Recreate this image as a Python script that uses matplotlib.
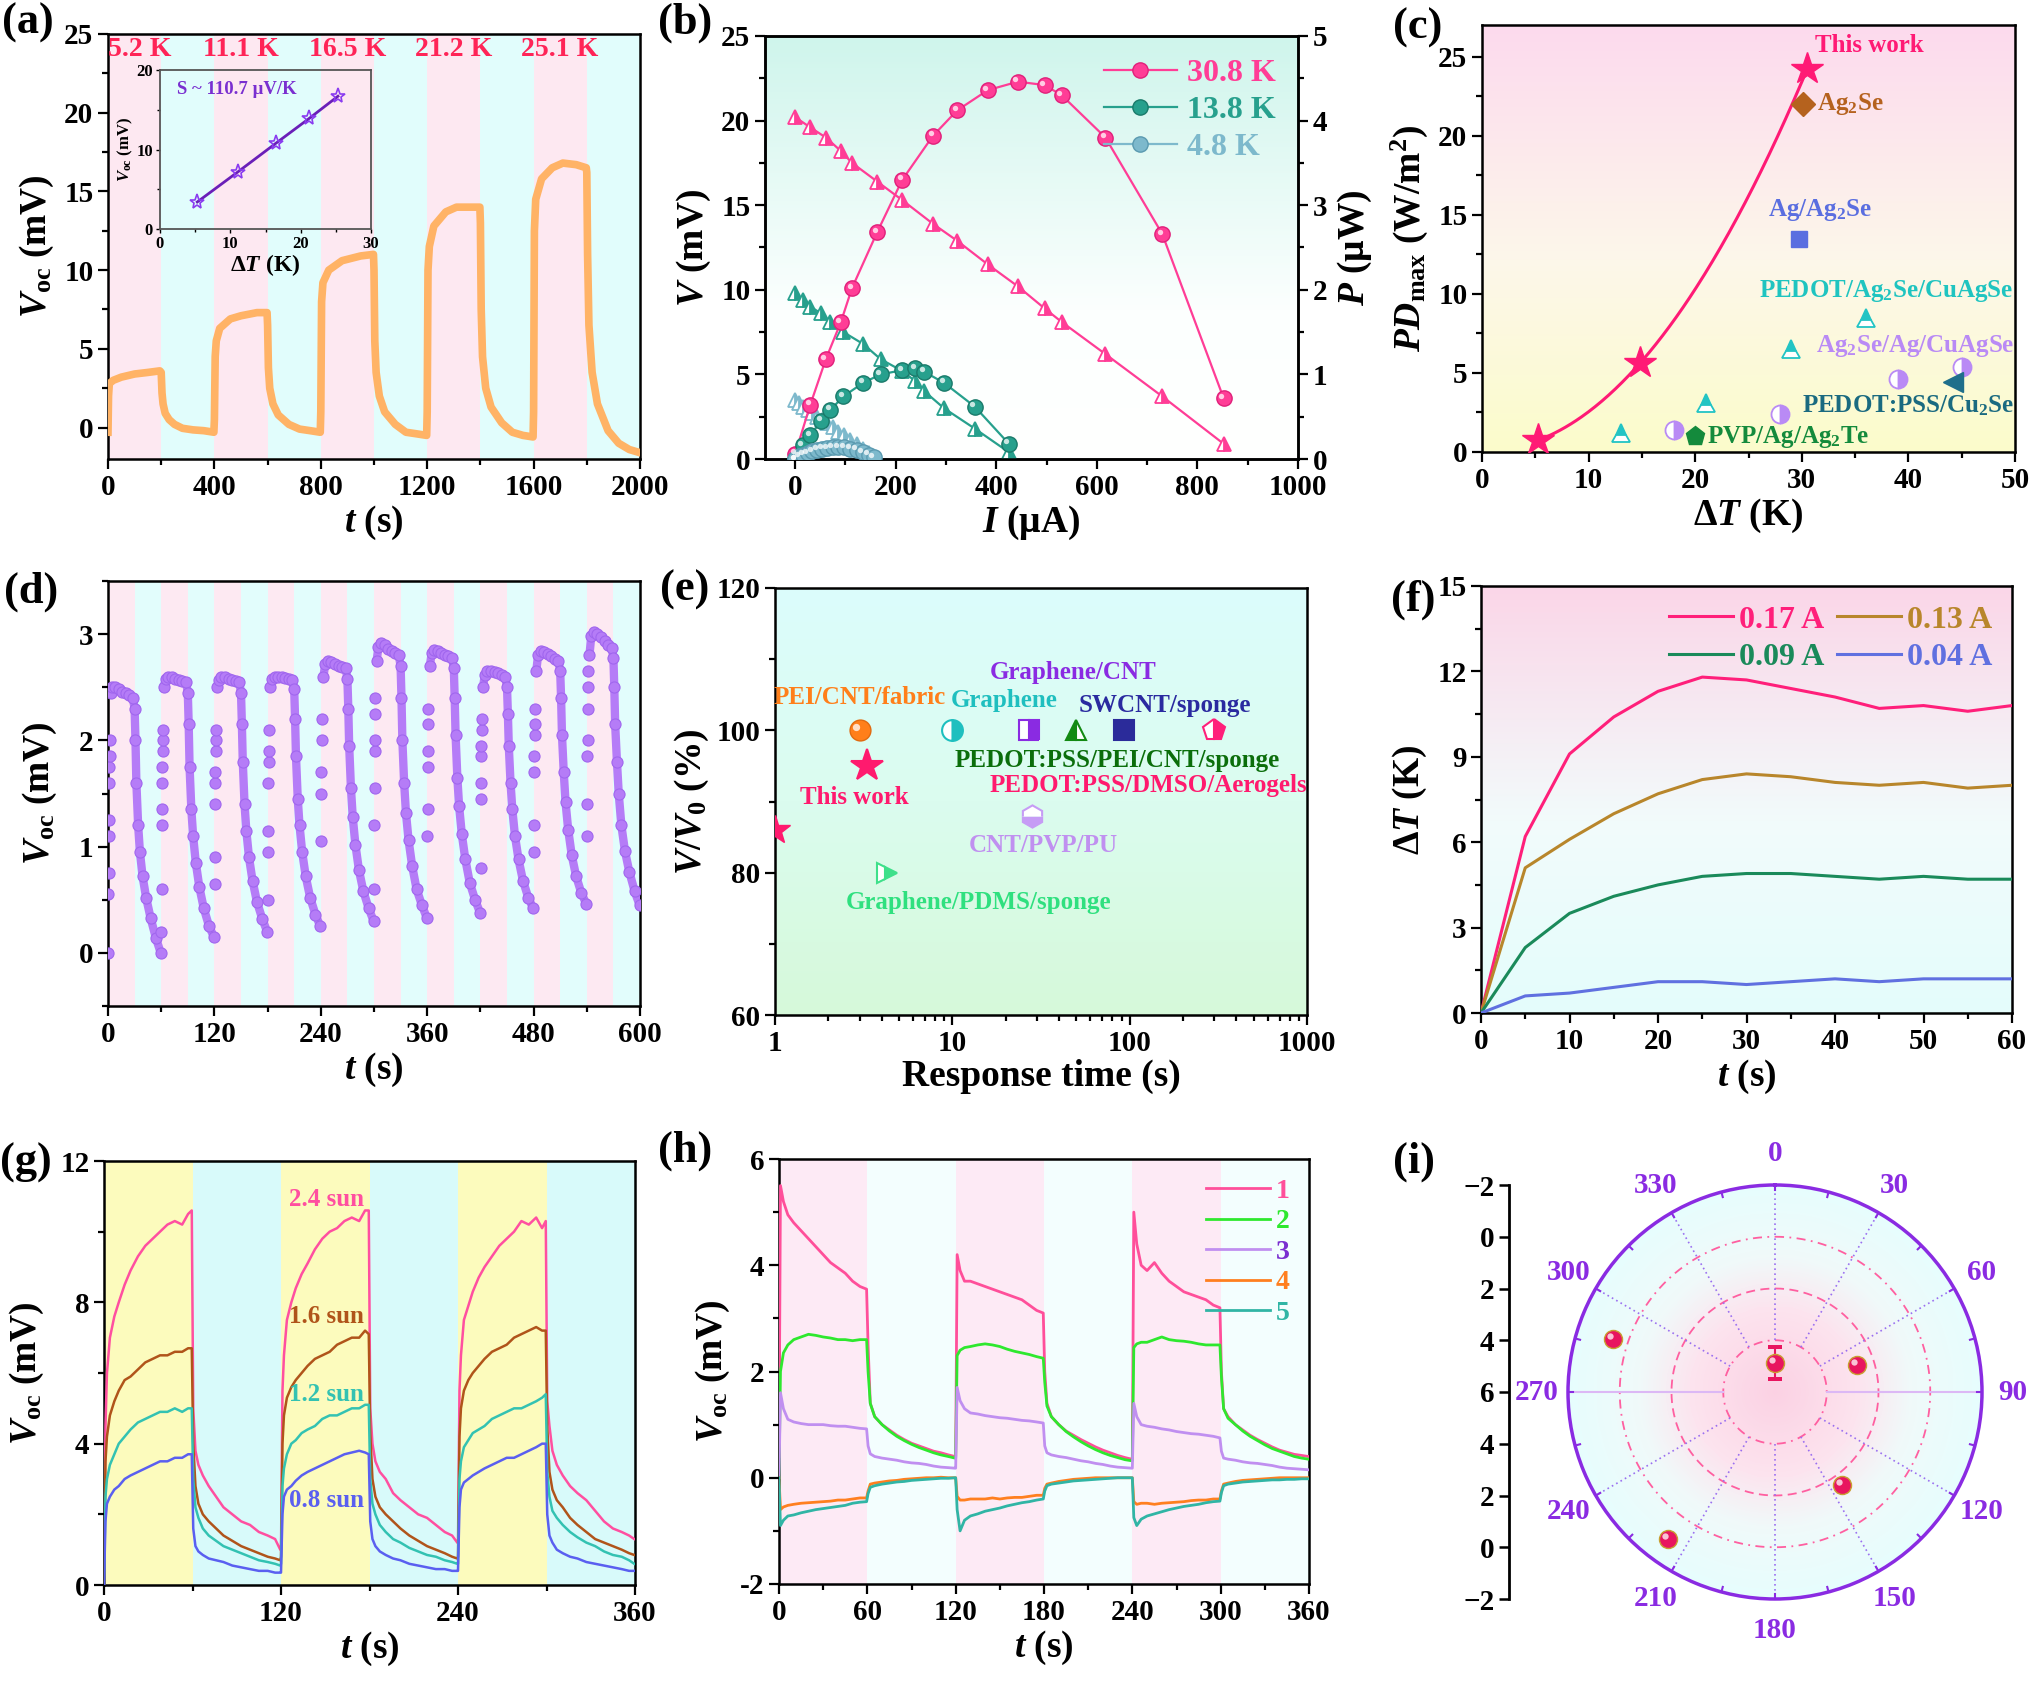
import numpy as np
import matplotlib
matplotlib.use('Agg')
import matplotlib.pyplot as plt
from matplotlib.colors import LinearSegmentedColormap
from matplotlib.ticker import MultipleLocator, NullFormatter, LogLocator
from matplotlib.transforms import ScaledTranslation

plt.rcParams['font.family'] = ['Liberation Serif', 'DejaVu Serif']
plt.rcParams['font.weight'] = 'bold'
plt.rcParams['axes.labelweight'] = 'bold'
plt.rcParams['mathtext.fontset'] = 'custom'
plt.rcParams['mathtext.rm'] = 'Liberation Serif:bold'
plt.rcParams['mathtext.it'] = 'Liberation Serif:italic:bold'
plt.rcParams['mathtext.bf'] = 'Liberation Serif:bold'
plt.rcParams['axes.unicode_minus'] = False

# ------------------------------------------------------------------ data
# (a) Voc vs time
a_t = [0, 2, 5, 20, 50, 100, 150, 195, 200, 203, 207, 215, 230, 250, 280, 320, 360, 398,
       400, 403, 407, 420, 460, 500, 560, 598, 600, 603, 608, 620, 640, 680, 720, 760, 798,
       800, 803, 808, 830, 880, 950, 998, 1000, 1003, 1008, 1020, 1040, 1080, 1120, 1160, 1198,
       1200, 1203, 1208, 1225, 1270, 1310, 1350, 1398, 1400, 1403, 1408, 1420, 1440, 1480, 1520, 1560, 1598,
       1600, 1603, 1608, 1630, 1670, 1710, 1760, 1798, 1800, 1803, 1808, 1820, 1840, 1880, 1920, 1960, 2000]
a_v = [-0.3, 2.0, 2.8, 3.0, 3.2, 3.4, 3.5, 3.6, 3.5, 2.2, 1.5, 0.9, 0.5, 0.2, -0.05, -0.15, -0.2, -0.3,
       0.5, 4.5, 5.5, 6.3, 6.9, 7.1, 7.3, 7.3, 6.5, 3.8, 2.5, 1.5, 0.8, 0.2, -0.1, -0.2, -0.3,
       1.0, 8.0, 9.2, 10.0, 10.6, 10.9, 11.0, 10.0, 5.5, 3.5, 2.0, 1.0, 0.2, -0.3, -0.4, -0.5,
       1.0, 10.0, 11.5, 12.8, 13.7, 14.0, 14.0, 14.0, 13.0, 7.5, 4.5, 2.5, 1.3, 0.3, -0.3, -0.5, -0.6,
       1.0, 12.5, 14.5, 15.8, 16.5, 16.8, 16.7, 16.5, 16.2, 11.0, 6.5, 3.5, 1.5, -0.2, -1.0, -1.4, -1.6]
a_labels = ['5.2 K', '11.1 K', '16.5 K', '21.2 K', '25.1 K']
a_label_t = [118, 498, 902, 1298, 1698]
a_in_dT = [5.3, 11.1, 16.5, 21.2, 25.3]
a_in_V = [3.4, 7.2, 10.8, 13.9, 16.7]

# (b) I-V and P-I
b_labels = ['30.8 K', '13.8 K', '4.8 K']
b_I = [[0, 30, 61, 91, 113, 163, 213, 274, 322, 383, 443, 496, 530, 617, 730, 852],
       [0, 15, 30, 52, 70, 96, 135, 170, 213, 239, 257, 296, 357, 425],
       [0, 8, 16, 25, 34, 44, 54, 64, 75, 86, 98, 110, 122, 134, 146, 156]]
b_V = [[20.2, 19.6, 19.0, 18.2, 17.5, 16.4, 15.3, 13.9, 12.9, 11.5, 10.2, 8.9, 8.1, 6.2, 3.7, 0.9],
       [9.8, 9.4, 9.0, 8.6, 8.1, 7.5, 6.8, 5.9, 5.2, 4.6, 4.0, 3.0, 1.8, 0.4],
       [3.5, 3.3, 3.1, 2.9, 2.7, 2.5, 2.3, 2.1, 1.9, 1.6, 1.4, 1.1, 0.9, 0.6, 0.35, 0.1]]
b_P = [[0.06, 0.64, 1.18, 1.62, 2.02, 2.68, 3.30, 3.82, 4.12, 4.36, 4.46, 4.42, 4.30, 3.80, 2.66, 0.72],
       [0.0, 0.16, 0.28, 0.45, 0.58, 0.74, 0.90, 1.00, 1.05, 1.07, 1.03, 0.90, 0.62, 0.18],
       [0.0, 0.03, 0.05, 0.07, 0.09, 0.11, 0.12, 0.13, 0.14, 0.14, 0.14, 0.12, 0.11, 0.08, 0.05, 0.02]]

# (c) power density comparison
c_tw_dT = [5.3, 14.8, 30.5]
c_tw_PD = [0.75, 5.6, 24.2]
c_ag2se = (30.1, 22.0)
c_agag2se = (29.7, 13.5)
c_tri_dT = [36.0, 29.0, 21.0, 13.0]
c_tri_PD = [8.5, 6.5, 3.1, 1.2]
c_half_dT = [45.0, 39.0, 28.0, 18.0]
c_half_PD = [5.4, 4.6, 2.4, 1.4]
c_cu2se = (44.2, 4.4)
c_pvp = (20.0, 1.0)

# (d) cycling
d_rise = [[0.0, 0.55, 0.75, 1.1, 1.25, 1.6, 1.75, 1.85, 2.0],
          [0.2, 0.6, 1.2, 1.35, 1.6, 1.75, 1.9, 2.0, 2.1],
          [0.65, 0.9, 1.4, 1.6, 1.7, 1.9, 2.0, 2.1],
          [0.5, 0.95, 1.15, 1.6, 1.8, 1.9, 2.1],
          [1.05, 1.5, 1.7, 2.0, 2.2],
          [0.6, 1.2, 1.55, 1.9, 2.0, 2.25, 2.4],
          [1.1, 1.35, 1.75, 1.9, 2.15, 2.3],
          [0.8, 1.45, 1.6, 1.85, 1.95, 2.1, 2.2],
          [0.95, 1.2, 1.7, 1.85, 2.05, 2.15, 2.3],
          [1.1, 1.4, 1.85, 2.0, 2.3, 2.5, 2.65]]
d_rise_dt = [0.3, 0.5, 0.7, 0.9, 1.1, 1.3, 1.5, 1.7, 1.9]
d_off = [3, 5, 8, 12, 16, 20, 24, 28, 30, 31, 32, 34, 36, 39, 43, 48, 54, 59.5]
d_vals = [[2.45, 2.5, 2.5, 2.48, 2.46, 2.45, 2.43, 2.4, 2.3, 2.0, 1.6, 1.2, 0.95, 0.72, 0.52, 0.33, 0.14, 0.0],
          [2.5, 2.58, 2.6, 2.6, 2.58, 2.57, 2.56, 2.55, 2.45, 2.15, 1.75, 1.35, 1.1, 0.85, 0.62, 0.42, 0.25, 0.15],
          [2.5, 2.57, 2.6, 2.6, 2.58, 2.57, 2.56, 2.55, 2.45, 2.15, 1.8, 1.4, 1.15, 0.9, 0.68, 0.48, 0.32, 0.2],
          [2.5, 2.58, 2.6, 2.6, 2.6, 2.59, 2.58, 2.57, 2.48, 2.2, 1.85, 1.45, 1.2, 0.95, 0.72, 0.52, 0.36, 0.25],
          [2.6, 2.72, 2.75, 2.74, 2.72, 2.7, 2.69, 2.68, 2.58, 2.3, 1.95, 1.55, 1.28, 1.02, 0.78, 0.58, 0.42, 0.3],
          [2.75, 2.88, 2.92, 2.9, 2.86, 2.84, 2.82, 2.8, 2.7, 2.4, 2.0, 1.6, 1.32, 1.06, 0.82, 0.6, 0.45, 0.33],
          [2.7, 2.82, 2.85, 2.84, 2.82, 2.8, 2.79, 2.78, 2.68, 2.4, 2.05, 1.65, 1.38, 1.12, 0.88, 0.66, 0.5, 0.38],
          [2.5, 2.62, 2.65, 2.65, 2.64, 2.63, 2.62, 2.6, 2.5, 2.25, 1.95, 1.6, 1.35, 1.1, 0.88, 0.68, 0.52, 0.42],
          [2.65, 2.8, 2.84, 2.83, 2.81, 2.79, 2.77, 2.75, 2.65, 2.4, 2.05, 1.7, 1.42, 1.16, 0.92, 0.72, 0.56, 0.46],
          [2.8, 2.98, 3.02, 3.0, 2.97, 2.94, 2.9, 2.87, 2.78, 2.5, 2.15, 1.8, 1.5, 1.2, 0.96, 0.76, 0.58, 0.45]]

# (e) stability vs response time
e_names = ['PEI/CNT/fabric', 'Graphene', 'Graphene/CNT', 'PEDOT:PSS/PEI/CNT/sponge', 'SWCNT/sponge',
           'PEDOT:PSS/DMSO/Aerogels', 'This work', 'CNT/PVP/PU', 'Graphene/PDMS/sponge']
e_time = [3.0, 10.0, 27, 50, 93, 297, 3.3, 28, 4.3]
e_ratio = [100, 100, 100, 100, 100, 100, 95, 88, 80]
e_lab_x = [3.0, 19.5, 48, 85, 157, 128, 2.79, 32.4, 14.1]
e_lab_y = [104.6, 104.2, 108.1, 95.7, 103.5, 92.2, 90.6, 83.8, 75.8]
e_extra = (1.0, 86)

# (f) Delta T vs time
f_t = [0, 5, 10, 15, 20, 25, 30, 35, 40, 45, 50, 55, 60]
f_labels = ['0.17 A', '0.13 A', '0.09 A', '0.04 A']
f_dT = [[0, 6.2, 9.1, 10.4, 11.3, 11.8, 11.7, 11.4, 11.1, 10.7, 10.8, 10.6, 10.8],
        [0, 5.1, 6.1, 7.0, 7.7, 8.2, 8.4, 8.3, 8.1, 8.0, 8.1, 7.9, 8.0],
        [0, 2.3, 3.5, 4.1, 4.5, 4.8, 4.9, 4.9, 4.8, 4.7, 4.8, 4.7, 4.7],
        [0, 0.6, 0.7, 0.9, 1.1, 1.1, 1.0, 1.1, 1.2, 1.1, 1.2, 1.2, 1.2]]

# (g) light intensity
g_cycles = [0, 120, 240]
g_off = [0, 1, 2, 4, 7, 10, 14, 18, 23, 28, 33, 38, 43, 48, 53, 57, 59.5,
         60.5, 62, 64, 67, 71, 76, 81, 87, 93, 99, 105, 111, 116, 119.5]
g_labels = ['2.4 sun', '1.6 sun', '1.2 sun', '0.8 sun']
g_lab_y = [10.9, 7.6, 5.4, 2.4]
g_V = [
    [0.0, 4.5, 6.0, 7.0, 7.6, 8.0, 8.5, 8.9, 9.3, 9.6, 9.8, 10.0, 10.2, 10.3, 10.2, 10.5, 10.6,
     5.0, 3.8, 3.4, 3.1, 2.8, 2.5, 2.2, 2.0, 1.8, 1.7, 1.5, 1.4, 1.3, 1.0,
     1.0, 5.5, 6.5, 7.5, 8.0, 8.4, 8.8, 9.1, 9.5, 9.8, 10.0, 10.1, 10.3, 10.4, 10.3, 10.6, 10.6,
     5.0, 4.0, 3.5, 3.2, 3.0, 2.6, 2.4, 2.2, 2.0, 1.9, 1.7, 1.5, 1.4, 1.2,
     1.2, 5.5, 6.5, 7.5, 7.9, 8.3, 8.7, 9.0, 9.3, 9.6, 9.8, 10.0, 10.3, 10.2, 10.4, 10.1, 10.3,
     5.2, 4.5, 3.8, 3.4, 3.1, 2.8, 2.6, 2.4, 2.1, 1.8, 1.6, 1.5, 1.4, 1.3],
    [0.0, 3.5, 4.2, 4.8, 5.2, 5.5, 5.8, 5.9, 6.1, 6.3, 6.4, 6.5, 6.5, 6.6, 6.6, 6.7, 6.7,
     4.0, 2.8, 2.3, 2.0, 1.8, 1.6, 1.4, 1.25, 1.1, 1.0, 0.9, 0.8, 0.75, 0.7,
     0.8, 4.0, 4.8, 5.3, 5.6, 5.8, 6.0, 6.2, 6.4, 6.5, 6.6, 6.8, 6.9, 7.0, 7.0, 7.2, 7.1,
     4.3, 3.0, 2.5, 2.2, 2.0, 1.8, 1.6, 1.4, 1.25, 1.1, 1.0, 0.9, 0.8, 0.75,
     0.8, 4.2, 5.0, 5.5, 5.8, 6.0, 6.2, 6.4, 6.6, 6.7, 6.8, 7.0, 7.1, 7.2, 7.3, 7.2, 7.2,
     4.5, 3.2, 2.7, 2.4, 2.2, 1.9, 1.7, 1.5, 1.3, 1.2, 1.1, 1.0, 0.9, 0.85],
    [0.0, 2.5, 3.0, 3.4, 3.7, 4.0, 4.2, 4.4, 4.6, 4.7, 4.8, 4.9, 4.9, 5.0, 4.9, 5.0, 5.0,
     3.0, 2.2, 1.9, 1.6, 1.4, 1.25, 1.1, 1.0, 0.9, 0.8, 0.7, 0.65, 0.6, 0.55,
     0.6, 2.8, 3.3, 3.7, 4.0, 4.1, 4.3, 4.4, 4.5, 4.7, 4.8, 4.8, 4.9, 5.0, 5.0, 5.1, 5.1,
     3.0, 2.3, 2.0, 1.7, 1.5, 1.3, 1.2, 1.05, 0.95, 0.85, 0.8, 0.7, 0.65, 0.6,
     0.6, 3.0, 3.5, 3.9, 4.1, 4.3, 4.4, 4.5, 4.7, 4.8, 4.9, 5.0, 5.0, 5.1, 5.2, 5.3, 5.4,
     3.2, 2.5, 2.1, 1.9, 1.7, 1.5, 1.35, 1.2, 1.1, 0.95, 0.85, 0.8, 0.7, 0.6],
    [0.0, 1.8, 2.3, 2.5, 2.7, 2.8, 3.0, 3.1, 3.2, 3.3, 3.4, 3.5, 3.5, 3.6, 3.6, 3.7, 3.7,
     1.6, 1.1, 0.95, 0.85, 0.75, 0.7, 0.65, 0.55, 0.5, 0.45, 0.4, 0.4, 0.35, 0.35,
     0.35, 2.0, 2.5, 2.7, 2.8, 2.95, 3.1, 3.2, 3.3, 3.4, 3.5, 3.6, 3.7, 3.75, 3.8, 3.75, 3.7,
     1.8, 1.3, 1.1, 0.95, 0.85, 0.75, 0.7, 0.6, 0.55, 0.5, 0.45, 0.45, 0.4, 0.4,
     0.4, 2.2, 2.7, 2.9, 3.0, 3.1, 3.2, 3.3, 3.4, 3.5, 3.6, 3.6, 3.7, 3.8, 3.9, 4.0, 4.0,
     2.0, 1.4, 1.2, 1.0, 0.9, 0.8, 0.75, 0.65, 0.6, 0.55, 0.5, 0.45, 0.4, 0.4]]

# (h) five devices
h_cycles = [0, 120, 240]
h_off = [0, 1, 3, 6, 10, 15, 20, 25, 30, 35, 40, 45, 50, 55, 59.5,
         60.5, 62, 65, 70, 75, 80, 85, 90, 95, 100, 105, 110, 115, 119.5]
h_labels = ['1', '2', '3', '4', '5']
h_V = [
    [0.4, 5.5, 5.2, 4.95, 4.8, 4.65, 4.5, 4.35, 4.2, 4.05, 3.95, 3.85, 3.7, 3.6, 3.55,
     2.5, 1.4, 1.15, 1.0, 0.9, 0.8, 0.72, 0.65, 0.6, 0.55, 0.5, 0.47, 0.43, 0.4,
     0.4, 4.2, 3.9, 3.7, 3.7, 3.65, 3.6, 3.55, 3.5, 3.45, 3.4, 3.35, 3.25, 3.15, 3.1,
     2.0, 1.4, 1.15, 1.0, 0.88, 0.8, 0.72, 0.65, 0.58, 0.52, 0.47, 0.42, 0.38, 0.35,
     0.35, 5.0, 4.4, 4.0, 3.9, 4.05, 3.85, 3.7, 3.6, 3.5, 3.45, 3.4, 3.35, 3.25, 3.2,
     2.0, 1.3, 1.15, 1.0, 0.9, 0.8, 0.72, 0.65, 0.58, 0.52, 0.48, 0.44, 0.42, 0.4],
    [0.0, 2.0, 2.35, 2.5, 2.6, 2.65, 2.7, 2.68, 2.65, 2.63, 2.6, 2.6, 2.58, 2.6, 2.6,
     2.0, 1.4, 1.15, 1.0, 0.88, 0.78, 0.7, 0.63, 0.57, 0.52, 0.47, 0.43, 0.4, 0.37,
     0.37, 2.3, 2.4, 2.45, 2.47, 2.5, 2.52, 2.5, 2.47, 2.42, 2.38, 2.35, 2.32, 2.28, 2.25,
     1.8, 1.35, 1.15, 1.0, 0.87, 0.77, 0.68, 0.6, 0.53, 0.47, 0.42, 0.38, 0.34, 0.32,
     0.32, 2.45, 2.52, 2.55, 2.55, 2.6, 2.65, 2.6, 2.58, 2.57, 2.55, 2.52, 2.5, 2.5, 2.5,
     1.9, 1.3, 1.12, 1.0, 0.88, 0.78, 0.7, 0.62, 0.55, 0.5, 0.45, 0.4, 0.37, 0.35],
    [0.0, 1.6, 1.3, 1.1, 1.05, 1.02, 1.0, 1.0, 1.0, 0.98, 0.97, 0.97, 0.95, 0.93, 0.92,
     0.6, 0.45, 0.4, 0.37, 0.35, 0.33, 0.3, 0.28, 0.27, 0.25, 0.22, 0.2, 0.19, 0.18,
     0.18, 1.7, 1.45, 1.3, 1.22, 1.2, 1.17, 1.15, 1.13, 1.12, 1.1, 1.08, 1.07, 1.05, 1.03,
     0.6, 0.47, 0.43, 0.4, 0.38, 0.35, 0.32, 0.3, 0.27, 0.25, 0.22, 0.2, 0.19, 0.18,
     0.18, 1.4, 1.15, 1.0, 0.97, 0.95, 0.92, 0.9, 0.87, 0.85, 0.83, 0.82, 0.8, 0.78, 0.75,
     0.5, 0.37, 0.35, 0.33, 0.3, 0.28, 0.27, 0.25, 0.23, 0.2, 0.18, 0.17, 0.16, 0.15],
    [0.0, -0.6, -0.55, -0.52, -0.5, -0.48, -0.47, -0.46, -0.45, -0.44, -0.42, -0.42, -0.4, -0.38, -0.38,
     -0.25, -0.12, -0.1, -0.08, -0.06, -0.05, -0.03, -0.02, -0.01, 0.0, 0.0, 0.01, 0.0, 0.0,
     0.0, -0.35, -0.42, -0.42, -0.4, -0.4, -0.4, -0.38, -0.4, -0.38, -0.37, -0.37, -0.35, -0.33, -0.33,
     -0.2, -0.12, -0.1, -0.07, -0.05, -0.03, -0.02, -0.01, 0.0, 0.0, 0.0, 0.0, 0.0, 0.0,
     0.0, -0.45, -0.5, -0.48, -0.48, -0.5, -0.48, -0.47, -0.46, -0.45, -0.43, -0.42, -0.42, -0.4, -0.4,
     -0.25, -0.12, -0.1, -0.07, -0.05, -0.04, -0.03, -0.02, -0.01, 0.0, 0.0, 0.0, 0.0, 0.0],
    [0.0, -0.9, -0.8, -0.72, -0.7, -0.66, -0.63, -0.6, -0.58, -0.56, -0.54, -0.52, -0.48, -0.46, -0.45,
     -0.3, -0.18, -0.15, -0.12, -0.1, -0.08, -0.07, -0.05, -0.04, -0.03, -0.02, -0.01, -0.01, 0.0,
     0.0, -0.6, -1.0, -0.8, -0.72, -0.68, -0.63, -0.6, -0.57, -0.53, -0.5, -0.47, -0.45, -0.42, -0.4,
     -0.25, -0.15, -0.12, -0.1, -0.08, -0.06, -0.05, -0.04, -0.03, -0.02, -0.01, 0.0, 0.0, 0.0,
     0.0, -0.75, -0.9, -0.78, -0.72, -0.68, -0.64, -0.6, -0.57, -0.54, -0.52, -0.5, -0.47, -0.45, -0.44,
     -0.28, -0.15, -0.12, -0.1, -0.08, -0.07, -0.06, -0.05, -0.04, -0.04, -0.03, -0.03, -0.02, -0.02]]

# (i) polar
i_angle = [0, 72, 144, 216, 288]
i_value = [4.88, 2.66, 1.57, -1.02, -0.59]
i_err = [0.6, 0, 0, 0, 0]
i_r_ticklabels = ['\u22122', '0', '2', '4', '6', '4', '2', '0', '\u22122']

# ------------------------------------------------------------------ helpers
FW, FH = 2032, 1686
fig = plt.figure(figsize=(FW / 100, FH / 100), dpi=100)


def rect(l, r, t, b):
    return [l / FW, 1 - b / FH, (r - l) / FW, (b - t) / FH]


def grad_bg(rc, stops, colors):
    bg = fig.add_axes(rc, zorder=0)
    bg.set_axis_off()
    cmap = LinearSegmentedColormap.from_list('g', list(zip(stops, colors)))
    arr = np.linspace(0, 1, 300).reshape(-1, 1)
    bg.imshow(arr, cmap=cmap, aspect='auto', extent=[0, 1, 0, 1], origin='lower',
              interpolation='bilinear')
    bg.set_xlim(0, 1)
    bg.set_ylim(0, 1)
    return bg


def main_ax(rc):
    ax = fig.add_axes(rc, zorder=1)
    ax.patch.set_alpha(0)
    return ax


def style(ax, fs=21, lw=1.8):
    ax.tick_params(which='both', direction='out', width=1.6, labelsize=fs)
    ax.tick_params(which='major', length=7)
    ax.tick_params(which='minor', length=4)
    for s in ax.spines.values():
        s.set_linewidth(lw)


def sphere(ax, x, y, color, ms=10, edge=None, z=4, ls='-', lw=0):
    ax.plot(x, y, marker='o', ms=ms, mfc=color, mec=edge or color, mew=1.0,
            ls=ls, lw=lw, color=color, zorder=z)
    off = ax.transData + ScaledTranslation(-ms * 0.16 / 72, ms * 0.16 / 72, fig.dpi_scale_trans)
    ax.plot(x, y, marker='o', ms=ms * 0.35, mfc='white', mec='none', alpha=0.75,
            ls='none', transform=off, zorder=z + 0.1)


def panel_label(txt, x, y):
    fig.text(x / FW, 1 - y / FH, txt, fontsize=32, fontweight='bold', va='center', ha='left')


LBL = 27

# ------------------------------------------------------------------ (a)
ax = main_ax(rect(108, 640, 34, 459))
edges = np.arange(0, 2001, 200)
for k in range(len(edges) - 1):
    ax.axvspan(edges[k], edges[k + 1], color='#fde8f1' if k % 2 == 0 else '#e1fdfc', zorder=0, lw=0)
ax.plot(a_t, a_v, color='#ffb366', lw=5.5, solid_joinstyle='round', zorder=3)
for lab, x in zip(a_labels, a_label_t):
    ax.text(x, 24.0, lab, color='#ff2457', fontsize=20, ha='center', va='center', zorder=5)
ax.set_xlim(0, 2000)
ax.set_ylim(-2, 25)
ax.xaxis.set_major_locator(MultipleLocator(400))
ax.xaxis.set_minor_locator(MultipleLocator(200))
ax.yaxis.set_major_locator(MultipleLocator(5))
ax.yaxis.set_minor_locator(MultipleLocator(2.5))
style(ax)
ax.set_xlabel(r'$\mathit{t}$ (s)', fontsize=LBL, labelpad=2)
ax.set_ylabel(r'$\mathit{V}_{\mathrm{oc}}$ (mV)', fontsize=LBL, labelpad=6)

ins = fig.add_axes(rect(160, 371, 70, 229), zorder=2)
ins.patch.set_alpha(0)
ins.plot(a_in_dT, a_in_V, color='#6a1fb8', lw=2, marker='*', ms=11, mfc='none', mec='#8a3cf0', mew=1.2)
ins.set_xlim(0, 30)
ins.set_ylim(0, 20)
ins.xaxis.set_major_locator(MultipleLocator(10))
ins.xaxis.set_minor_locator(MultipleLocator(5))
ins.yaxis.set_major_locator(MultipleLocator(10))
ins.yaxis.set_minor_locator(MultipleLocator(5))
ins.tick_params(which='both', direction='out', labelsize=12, width=1, pad=2)
ins.tick_params(which='major', length=3)
ins.tick_params(which='minor', length=2)
for s in ins.spines.values():
    s.set_linewidth(1.3)
    s.set_color('#555555')
ins.set_xlabel('Δ$\\mathit{T}$ (K)', fontsize=17, labelpad=0)
ins.set_ylabel(r'$\mathit{V}_{\mathrm{oc}}$ (mV)', fontsize=12, labelpad=1)
ins.text(0.08, 0.88, 'S ~ 110.7 μV/K', transform=ins.transAxes, color='#7a2fd0', fontsize=13.5,
         ha='left', va='center')
panel_label('(a)', 2, 23)

# ------------------------------------------------------------------ (b)
rb = rect(765, 1298, 36, 459)
grad_bg(rb, [0, 0.35, 1], ['#ffffff', '#fcfffe', '#cff5ec'])
ax = main_ax(rb)
ax2 = ax.twinx()
b_cols = ['#ff3d96', '#27a08d', '#7db9cc']
b_edge = ['#e0207a', '#1a7a6a', '#5a9ab0']
for k in range(3):
    ax.plot(b_I[k], b_V[k], color=b_cols[k], lw=1.6, marker='^', ms=10, fillstyle='right',
            mfc=b_cols[k], markerfacecoloralt='white', mec=b_cols[k], mew=1.3, zorder=3)
hl = []
for k in range(3):
    sphere(ax2, b_I[k], b_P[k], b_cols[k], ms=11, edge=b_edge[k], ls='-', lw=1.6)
    hl.append(ax2.lines[-2])
ax.set_xlim(-60, 1000)
ax.set_ylim(0, 25)
ax2.set_ylim(0, 5)
ax.xaxis.set_major_locator(MultipleLocator(200))
ax.xaxis.set_minor_locator(MultipleLocator(100))
ax.yaxis.set_major_locator(MultipleLocator(5))
ax.yaxis.set_minor_locator(MultipleLocator(2.5))
ax2.yaxis.set_major_locator(MultipleLocator(1))
ax2.yaxis.set_minor_locator(MultipleLocator(0.5))
style(ax)
style(ax2)
ax.set_xlabel(r'$\mathit{I}$ (μA)', fontsize=LBL, labelpad=2)
ax.set_ylabel(r'$\mathit{V}$ (mV)', fontsize=LBL, labelpad=6)
ax2.set_ylabel(r'$\mathit{P}$ (μW)', fontsize=LBL, labelpad=6)
leg = ax2.legend(hl, b_labels, loc='upper right', frameon=False, fontsize=23, handlelength=2.3,
                 handletextpad=0.3, labelspacing=0.25, borderaxespad=0.3)
for t, c in zip(leg.get_texts(), b_cols):
    t.set_color(c)
panel_label('(b)', 658, 23)

# ------------------------------------------------------------------ (c)
rc_ = rect(1482, 2015, 25, 452)
grad_bg(rc_, [0, 0.45, 1], ['#fbfccb', '#fdf7ea', '#fcdaee'])
ax = main_ax(rc_)
coef = np.polyfit(c_tw_dT, c_tw_PD, 2)
xx = np.linspace(c_tw_dT[0], c_tw_dT[-1], 200)
ax.plot(xx, np.polyval(coef, xx), color='#ff1a75', lw=2.2, zorder=3)
ax.plot(c_tw_dT, c_tw_PD, ls='none', marker='*', ms=24, color='#ff1a75', mec='#ff1a75', zorder=4)
ax.plot(*c_ag2se, marker='D', ms=12, color='#b5621e', zorder=4)
ax.plot(*c_agag2se, marker='s', ms=11, color='#5a6ee0', zorder=4)
ax.plot(c_tri_dT, c_tri_PD, ls='none', marker='^', ms=13, fillstyle='top', mfc='#22c4c4',
        markerfacecoloralt='white', mec='#22c4c4', mew=1.3, zorder=4)
ax.plot(c_half_dT, c_half_PD, ls='none', marker='o', ms=13, fillstyle='right', mfc='#b98af5',
        markerfacecoloralt='white', mec='#b98af5', mew=1.3, zorder=4)
ax.plot(*c_cu2se, marker='<', ms=14, color='#1f6f8b', zorder=4)
ax.plot(*c_pvp, marker='p', ms=14, color='#148a3c', zorder=4)
ax.text(36.3, 25.7, 'This work', color='#ff1a75', fontsize=18, ha='center', va='center')
ax.text(31.4, 22.0, 'Ag$_2$Se', color='#b5621e', fontsize=18, ha='left', va='center')
ax.text(31.7, 15.3, 'Ag/Ag$_2$Se', color='#5a6ee0', fontsize=18, ha='center', va='center')
ax.text(37.9, 10.2, 'PEDOT/Ag$_2$Se/CuAgSe', color='#1fc4c0', fontsize=18, ha='center', va='center')
ax.text(40.6, 6.7, 'Ag$_2$Se/Ag/CuAgSe', color='#b98af5', fontsize=18, ha='center', va='center')
ax.text(40.0, 2.94, 'PEDOT:PSS/Cu$_2$Se', color='#1a6a80', fontsize=18, ha='center', va='center')
ax.text(21.1, 0.97, 'PVP/Ag/Ag$_2$Te', color='#148a3c', fontsize=18, ha='left', va='center')
ax.set_xlim(0, 50)
ax.set_ylim(0, 27)
ax.xaxis.set_major_locator(MultipleLocator(10))
ax.xaxis.set_minor_locator(MultipleLocator(5))
ax.yaxis.set_major_locator(MultipleLocator(5))
ax.yaxis.set_minor_locator(MultipleLocator(2.5))
style(ax)
ax.set_xlabel('Δ$\\mathit{T}$ (K)', fontsize=LBL, labelpad=2)
ax.set_ylabel(r'$\mathit{PD}_{\mathrm{max}}$ (W/m$^{\mathrm{2}}$)', fontsize=LBL, labelpad=6)
panel_label('(c)', 1393, 28)

# ------------------------------------------------------------------ (d)
ax = main_ax(rect(108, 640, 581, 1006))
edges = np.arange(0, 601, 30)
for k in range(len(edges) - 1):
    ax.axvspan(edges[k], edges[k + 1], color='#fde9f2' if k % 2 == 0 else '#e2fdfc', zorder=0, lw=0)
dcol = '#b57cf7'
for c in range(10):
    t0 = 60 * c
    rx = [t0 + d_rise_dt[i] for i in range(len(d_rise[c]))]
    ax.plot(rx, d_rise[c], ls='none', marker='o', ms=8, mfc=dcol, mec='#a066ee', mew=0.8, zorder=3)
    tx = [t0 + o for o in d_off]
    ax.plot(tx, d_vals[c], color=dcol, lw=6, marker='o', ms=8, mfc=dcol, mec='#a066ee', mew=0.8,
            solid_joinstyle='round', zorder=3)
ax.set_xlim(0, 600)
ax.set_ylim(-0.5, 3.5)
ax.xaxis.set_major_locator(MultipleLocator(120))
ax.xaxis.set_minor_locator(MultipleLocator(60))
ax.yaxis.set_major_locator(MultipleLocator(1))
ax.yaxis.set_minor_locator(MultipleLocator(0.5))
style(ax)
ax.set_xlabel(r'$\mathit{t}$ (s)', fontsize=LBL, labelpad=2)
ax.set_ylabel(r'$\mathit{V}_{\mathrm{oc}}$ (mV)', fontsize=LBL, labelpad=14)
panel_label('(d)', 4, 592)

# ------------------------------------------------------------------ (e)
re_ = rect(775, 1307, 588, 1015)
grad_bg(re_, [0, 0.5, 1], ['#d6f9da', '#dbfcef', '#dcfdfc'])
ax = main_ax(re_)
ax.set_xscale('log')
e_mark = ['o', 'o', 's', '^', 's', 'p', '*', 'h', '>']
e_fill = ['full', 'right', 'right', 'left', 'full', 'right', 'full', 'bottom', 'right']
e_col = ['#ff7f1a', '#1fbfbf', '#8a2be2', '#138a13', '#2b2b9a', '#ff1f7a', '#ff1a6e', '#c69cf5', '#3ee08a']
e_txt = ['#ff7f1a', '#1fbfbf', '#8a2be2', '#0b6e0b', '#2a2aa0', '#ff1a6e', '#ff1a6e', '#c090f0', '#2fe07f']
e_ms = [15, 15, 14, 15, 14, 16, 24, 16, 15]
for k in range(len(e_names)):
    if e_mark[k] == 'o' and e_fill[k] == 'full':
        sphere(ax, [e_time[k]], [e_ratio[k]], e_col[k], ms=e_ms[k], edge='#e06a10', ls='none')
    else:
        ax.plot(e_time[k], e_ratio[k], marker=e_mark[k], ms=e_ms[k], fillstyle=e_fill[k], mfc=e_col[k],
                markerfacecoloralt='white', mec=e_col[k], mew=1.5, ls='none', zorder=4)
    ax.text(e_lab_x[k], e_lab_y[k], e_names[k], color=e_txt[k], fontsize=18, ha='center', va='center',
            zorder=5)
ax.plot(*e_extra, marker='*', ms=22, color='#ff1a6e', ls='none', zorder=4, clip_on=True)
ax.set_xlim(1, 1000)
ax.set_ylim(60, 120)
ax.set_xticks([1, 10, 100, 1000])
ax.set_xticklabels(['1', '10', '100', '1000'])
ax.xaxis.set_minor_locator(LogLocator(base=10, subs=np.arange(2, 10)))
ax.xaxis.set_minor_formatter(NullFormatter())
ax.yaxis.set_major_locator(MultipleLocator(20))
ax.yaxis.set_minor_locator(MultipleLocator(10))
style(ax)
ax.set_xlabel('Response time (s)', fontsize=LBL, labelpad=2)
ax.set_ylabel(r'$\mathit{V/V}_{\mathrm{0}}$ (%)', fontsize=LBL, labelpad=4)
panel_label('(e)', 660, 590)

# ------------------------------------------------------------------ (f)
rf = rect(1481, 2012, 586, 1013)
grad_bg(rf, [0, 0.45, 1], ['#e4fdfc', '#f2fbfb', '#fbd6e8'])
ax = main_ax(rf)
f_cols = ['#ff1f7a', '#b8862b', '#1a8a5a', '#6070e0']
lines = []
for k in range(4):
    ln, = ax.plot(f_t, f_dT[k], color=f_cols[k], lw=2.2, zorder=3)
    lines.append(ln)
order = [0, 2, 1, 3]
leg = ax.legend([lines[i] for i in order], [f_labels[i] for i in order], ncol=2, loc='upper right',
                frameon=False, fontsize=23, handlelength=2.0, handletextpad=0.2, columnspacing=0.4,
                labelspacing=0.25, borderaxespad=0.2)
for t, i in zip(leg.get_texts(), order):
    t.set_color(f_cols[i])
ax.set_xlim(0, 60)
ax.set_ylim(0, 15)
ax.xaxis.set_major_locator(MultipleLocator(10))
ax.xaxis.set_minor_locator(MultipleLocator(5))
ax.yaxis.set_major_locator(MultipleLocator(3))
ax.yaxis.set_minor_locator(MultipleLocator(1.5))
style(ax)
ax.set_xlabel(r'$\mathit{t}$ (s)', fontsize=LBL, labelpad=2)
ax.set_ylabel(r'$\mathit{\Delta T}$ (K)', fontsize=LBL, labelpad=6)
panel_label('(f)', 1391, 600)

# ------------------------------------------------------------------ (g)
ax = main_ax(rect(104, 635, 1161, 1585))
edges = np.arange(0, 361, 60)
for k in range(len(edges) - 1):
    ax.axvspan(edges[k], edges[k + 1], color='#fcfbbd' if k % 2 == 0 else '#d8fafa', zorder=0, lw=0)
g_t = [c + o for c in g_cycles for o in g_off]
g_cols = ['#ff4fa0', '#b0541a', '#33c2b2', '#5a5ff0']
for k in range(4):
    ax.plot(g_t, g_V[k], color=g_cols[k], lw=1.8, zorder=3)
    ax.text(151, g_lab_y[k], g_labels[k], color=g_cols[k], fontsize=18, ha='center', va='center', zorder=5)
ax.set_xlim(0, 360)
ax.set_ylim(0, 12)
ax.xaxis.set_major_locator(MultipleLocator(120))
ax.xaxis.set_minor_locator(MultipleLocator(60))
ax.yaxis.set_major_locator(MultipleLocator(4))
ax.yaxis.set_minor_locator(MultipleLocator(2))
style(ax)
ax.set_xlabel(r'$\mathit{t}$ (s)', fontsize=LBL, labelpad=2)
ax.set_ylabel(r'$\mathit{V}_{\mathrm{oc}}$ (mV)', fontsize=LBL, labelpad=10)
panel_label('(g)', 0, 1163)

# ------------------------------------------------------------------ (h)
ax = main_ax(rect(779, 1309, 1159, 1584))
for k in range(len(edges) - 1):
    ax.axvspan(edges[k], edges[k + 1], color='#fdeaf5' if k % 2 == 0 else '#f3fefe', zorder=0, lw=0)
h_t = [c + o for c in h_cycles for o in h_off]
h_cols = ['#ff4f9a', '#2ee82e', '#c08ff0', '#ff7f1f', '#30b5a5']
h_tcols = ['#ff4f9a', '#2ee82e', '#7b2fd0', '#ff7f1f', '#30b5a5']
hl = []
for k in range(5):
    ln, = ax.plot(h_t, h_V[k], color=h_cols[k], lw=2.0, zorder=3)
    hl.append(ln)
leg = ax.legend(hl, h_labels, loc='upper right', frameon=False, fontsize=20, handlelength=2.3,
                handletextpad=0.2, labelspacing=0.18, borderaxespad=0.3)
for t, c in zip(leg.get_texts(), h_tcols):
    t.set_color(c)
ax.set_xlim(0, 360)
ax.set_ylim(-2, 6)
ax.xaxis.set_major_locator(MultipleLocator(60))
ax.xaxis.set_minor_locator(MultipleLocator(30))
ax.yaxis.set_major_locator(MultipleLocator(2))
ax.yaxis.set_minor_locator(MultipleLocator(1))
style(ax)
ax.set_xlabel(r'$\mathit{t}$ (s)', fontsize=LBL, labelpad=2)
ax.set_ylabel(r'$\mathit{V}_{\mathrm{oc}}$ (mV)', fontsize=LBL, labelpad=6)
panel_label('(h)', 658, 1151)

# ------------------------------------------------------------------ (i)
pax = fig.add_axes(rect(1568, 1982, 1185, 1599), projection='polar', zorder=1)
pax.set_theta_zero_location('N')
pax.set_theta_direction(-1)
pax.patch.set_alpha(0)
th = np.linspace(0, 2 * np.pi, 91)
rr = np.linspace(-2, 6, 81)
TH, RR = np.meshgrid(th, rr)
rc_mid = 0.5 * (rr[:-1] + rr[1:])
frac = (6 - rc_mid) / 8
C = np.repeat(frac[:, None], len(th) - 1, axis=1)
rcmap = LinearSegmentedColormap.from_list('r', [(0, '#fbd1e3'), (0.4, '#fce3ee'), (0.65, '#f0f9f9'),
                                                (1, '#e6fdfd')])
pax.pcolormesh(TH, RR, C, cmap=rcmap, shading='flat', zorder=0, vmin=0, vmax=1)
pax.set_rlim(6, -2)
pax.grid(False)
pax.set_yticks([])
tt = np.deg2rad(np.arange(0, 360, 30))
pax.set_xticks(tt)
pax.set_xticklabels([str(a) for a in range(0, 360, 30)])
pax.tick_params(axis='x', labelcolor='#8a2be2', labelsize=21, pad=12)
pax.spines['polar'].set_color('#8a2be2')
pax.spines['polar'].set_linewidth(2.5)
full = np.linspace(0, 2 * np.pi, 361)
for rv, ls in zip([4, 2, 0], [(0, (5, 3, 1, 3)), (0, (5, 3)), (0, (5, 3, 1, 3))]):
    pax.plot(full, np.full_like(full, rv), color='#ff5fa0', lw=1.3, ls=ls, zorder=1)
for a in tt:
    if np.isclose(a, np.pi / 2) or np.isclose(a, 3 * np.pi / 2):
        pax.plot([a, a], [4, -2], color='#dcb8f5', lw=1.5, zorder=1)
    else:
        pax.plot([a, a], [4, -2], color='#9a6ff0', lw=1.2, ls=(0, (1, 2)), zorder=1)
for a in np.deg2rad(np.arange(0, 360, 15)):
    pax.plot([a, a], [-2, -1.8], color='#8a2be2', lw=1.5, zorder=2)
pax.errorbar(np.deg2rad(i_angle), i_value, yerr=i_err, fmt='none', ecolor='#e8155f', capsize=5,
             elinewidth=1.5, capthick=1.5, zorder=3)
sphere(pax, np.deg2rad(i_angle), i_value, '#e8155f', ms=13, edge='#c8a030', ls='none', z=4)
pax.set_rlim(6, -2)

rax = fig.add_axes(rect(1509, 1511, 1185, 1599), zorder=1)
rax.patch.set_alpha(0)
for s in ['top', 'right', 'bottom']:
    rax.spines[s].set_visible(False)
rax.spines['left'].set_linewidth(2)
rax.set_xticks([])
rax.set_ylim(-8, 8)
rax.set_yticks(np.arange(8, -9, -2))
rax.set_yticklabels(i_r_ticklabels)
rax.tick_params(axis='y', direction='out', length=7, width=1.8, labelsize=21)
panel_label('(i)', 1393, 1162)

fig.savefig('out.png', dpi=100)
